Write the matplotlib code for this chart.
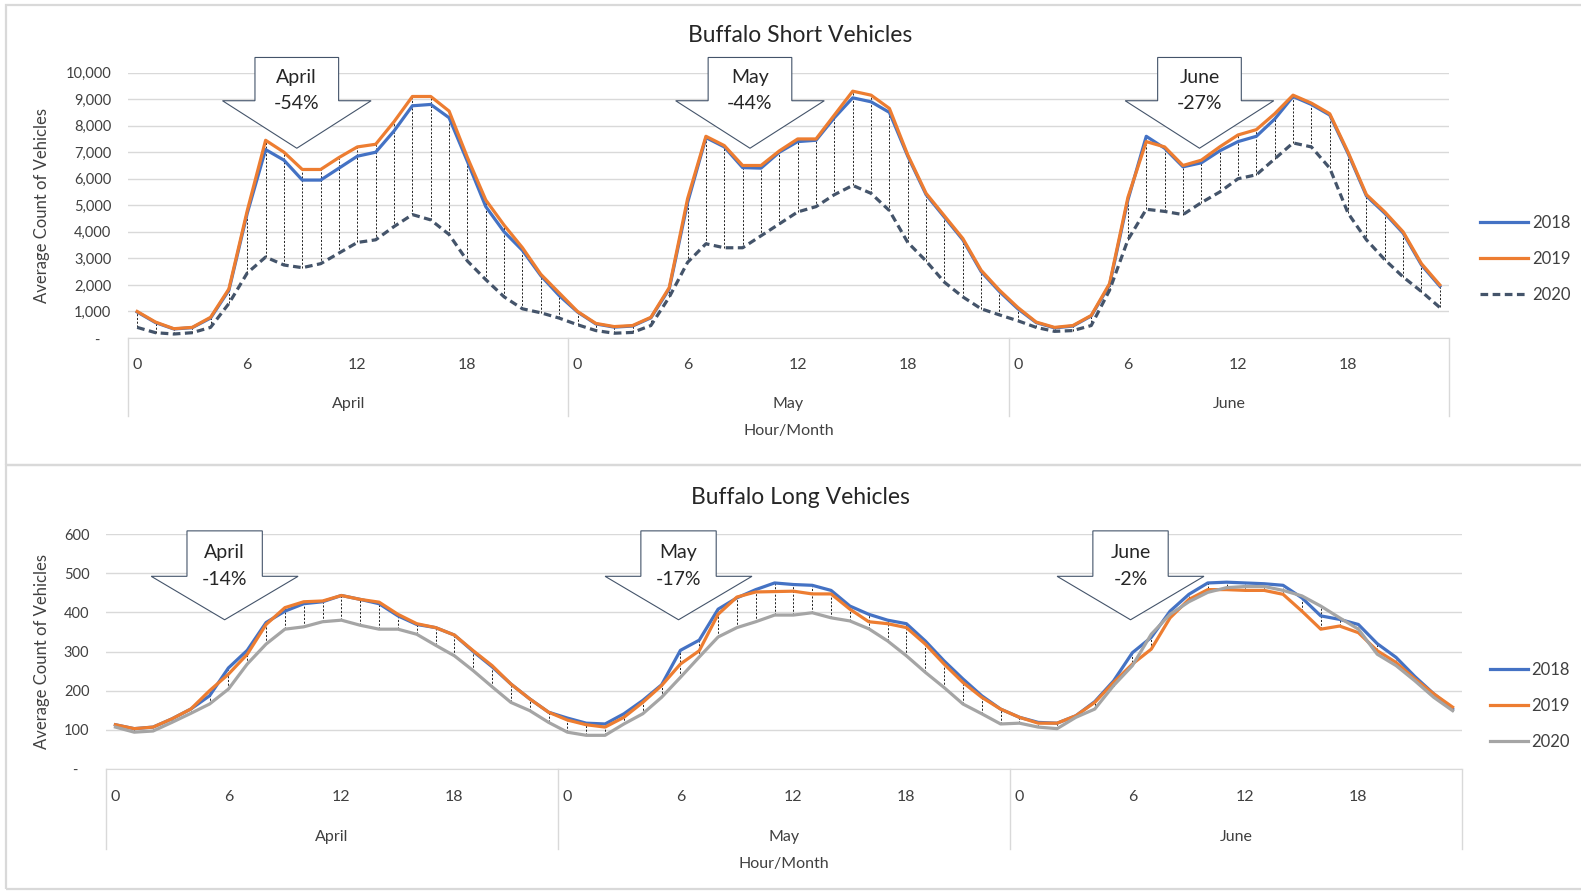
import matplotlib

matplotlib.use("Agg")
import matplotlib.pyplot as plt
import numpy as np
from matplotlib.patches import Polygon, Rectangle

plt.rcParams["font.family"] = ["Lato", "DejaVu Sans"]

FIG_W, FIG_H = 1581, 893
BLUE, ORANGE, SLATE, GRAY = "#4472C4", "#ED7D31", "#44546A", "#A5A5A5"
GRID = "#D9D9D9"
TEXT = "#404040"

MONTHS = ["April", "May", "June"]
HOURS = list(range(24))
HOUR_TICKS = [0, 6, 12, 18]
YEARS = ["2018", "2019", "2020"]

# Short vehicles, hourly averages, April / May / June
short_2018 = [
    980, 580, 340, 390, 750, 1800, 4700, 7100, 6700, 5950, 5950, 6400,
    6850, 7000, 7800, 8750, 8800, 8300, 6650, 4950, 4000, 3300, 2350, 1600,
    980, 530, 410, 450, 760, 1850, 5100, 7550, 7200, 6420, 6400, 7000,
    7400, 7450, 8300, 9050, 8900, 8500, 6850, 5400, 4550, 3700, 2500, 1750,
    1100, 580, 380, 450, 830, 2000, 5200, 7600, 7150, 6450, 6600, 7050,
    7400, 7600, 8250, 9100, 8800, 8400, 6950, 5350, 4700, 3950, 2750, 1950,
]
short_2019 = [
    1000, 600, 350, 400, 780, 1850, 4800, 7450, 7000, 6350, 6350, 6800,
    7200, 7300, 8150, 9100, 9100, 8550, 6800, 5200, 4250, 3400, 2400, 1700,
    1000, 550, 430, 470, 780, 1900, 5250, 7600, 7250, 6500, 6500, 7050,
    7500, 7500, 8400, 9300, 9150, 8650, 6900, 5450, 4600, 3750, 2550, 1800,
    1150, 600, 400, 470, 850, 2050, 5300, 7400, 7200, 6500, 6700, 7200,
    7650, 7850, 8450, 9150, 8850, 8450, 7000, 5400, 4750, 4000, 2800, 2000,
]
short_2020 = [
    400, 200, 150, 200, 400, 1300, 2450, 3050, 2750, 2650, 2800, 3200,
    3600, 3700, 4200, 4650, 4450, 3900, 2900, 2200, 1550, 1100, 950, 750,
    500, 280, 180, 210, 470, 1540, 2850, 3550, 3400, 3400, 3850, 4300,
    4750, 4950, 5400, 5750, 5450, 4800, 3600, 2900, 2100, 1550, 1100, 870,
    650, 400, 250, 280, 470, 1800, 3700, 4850, 4770, 4650, 5100, 5500,
    6000, 6150, 6750, 7350, 7200, 6400, 4700, 3700, 2950, 2300, 1750, 1150,
]

# Long vehicles
long_2018 = [
    113, 103, 107, 128, 153, 187, 258, 303, 374, 403, 422, 427,
    443, 433, 422, 391, 369, 361, 342, 300, 261, 217, 179, 145,
    130, 117, 115, 141, 175, 215, 303, 329, 408, 437, 458, 475,
    471, 469, 456, 416, 395, 380, 371, 327, 276, 230, 187, 153,
    132, 119, 117, 136, 172, 225, 297, 336, 403, 446, 475, 477,
    475, 473, 469, 437, 391, 382, 369, 320, 285, 236, 192, 153,
]
long_2019 = [
    113, 103, 107, 128, 153, 200, 242, 293, 369, 412, 427, 429,
    443, 433, 426, 395, 371, 361, 342, 302, 264, 217, 179, 145,
    125, 113, 107, 132, 170, 213, 268, 302, 395, 439, 452, 453,
    454, 447, 447, 408, 376, 371, 361, 319, 268, 221, 183, 153,
    132, 117, 117, 136, 170, 221, 268, 306, 386, 433, 458, 458,
    456, 456, 446, 403, 357, 365, 348, 302, 272, 230, 192, 158,
]
long_2020 = [
    107, 94, 97, 119, 142, 166, 204, 268, 319, 357, 363, 376,
    380, 367, 357, 357, 344, 316, 289, 251, 210, 170, 149, 119,
    94, 86, 86, 115, 141, 183, 234, 286, 337, 361, 376, 393,
    393, 399, 386, 378, 358, 327, 289, 247, 208, 166, 141, 115,
    117, 107, 103, 132, 153, 213, 264, 344, 395, 427, 451, 463,
    466, 466, 456, 442, 416, 386, 357, 293, 264, 225, 183, 149,
]

short_change = ["-54%", "-44%", "-27%"]
long_change = ["-14%", "-17%", "-2%"]


def px_box(left, top, right, bottom):
    """Pixel box of the reference -> figure fraction rect."""
    return [left / FIG_W, 1 - bottom / FIG_H, (right - left) / FIG_W, (bottom - top) / FIG_H]


def callout(ax, tx, ty, yw, yt, bw, ww, lines, ytext):
    pts = [(tx - bw, yt), (tx + bw, yt), (tx + bw, yw), (tx + ww, yw),
           (tx, ty), (tx - ww, yw), (tx - bw, yw)]
    ax.add_patch(Polygon(pts, closed=True, facecolor="white", edgecolor=SLATE,
                         lw=0.8, clip_on=False, zorder=6))
    for txt, yy in zip(lines, ytext):
        ax.text(tx, yy, txt, ha="center", va="center", fontsize=14,
                color="#262626", zorder=7, clip_on=False)


def draw_panel(fig, rect, title, title_y, series, colors, styles, ymax, ystep,
               fmt, tips, changes, legend_xy, handle_len, lab_px):
    ax = fig.add_axes(rect)
    n = len(series[0])
    x = np.arange(n)
    data = np.array(series)

    # high-low lines
    ax.vlines(x, data.min(axis=0), data.max(axis=0), colors="black",
              linestyles=(0, (2.5, 2)), lw=0.6, zorder=2)
    for vals, col, ls, lab in zip(series, colors, styles, YEARS):
        ax.plot(x, vals, color=col, lw=2.3, linestyle=ls, label=lab,
                solid_joinstyle="round", dash_capstyle="butt", zorder=3)

    ax.set_xlim(-0.5, n - 0.5)
    ax.set_ylim(0, ymax)
    yt = np.arange(0, ymax + 1, ystep)
    ax.set_yticks(yt)
    ax.set_yticklabels(["-   "] + [fmt(v) for v in yt[1:]], fontsize=10.5, color=TEXT)
    ax.tick_params(axis="y", length=0, pad=12)
    ax.set_xticks([])
    ax.grid(axis="y", color=GRID, lw=1)
    ax.set_axisbelow(True)
    for s in ["top", "right", "left"]:
        ax.spines[s].set_visible(False)
    ax.spines["bottom"].set_color(GRID)

    # multi-level category axis
    ax_h = rect[3] * FIG_H
    hour_off, month_off, sep_len, name_off = lab_px
    for m, month in enumerate(MONTHS):
        base = m * len(HOURS)
        for h in HOUR_TICKS:
            ax.annotate(str(h), (base + h, 0), xycoords=("data", "axes fraction"),
                        xytext=(0, -hour_off), textcoords="offset pixels",
                        ha="center", va="center", fontsize=11.5, color=TEXT)
        ax.annotate(month, (base + len(HOURS) / 2 - 0.5, 0),
                    xycoords=("data", "axes fraction"), xytext=(0, -month_off),
                    textcoords="offset pixels", ha="center", va="center",
                    fontsize=11.5, color=TEXT)
    for k in range(len(MONTHS) + 1):
        ax.plot([k * len(HOURS) - 0.5] * 2, [0, -sep_len / ax_h], color=GRID, lw=1,
                transform=ax.get_xaxis_transform(), clip_on=False)
    ax.annotate("Hour/Month", (n / 2 - 0.5, 0), xycoords=("data", "axes fraction"),
                xytext=(0, -name_off), textcoords="offset pixels",
                ha="center", va="center", fontsize=11.5, color=TEXT)

    fig.text(0.506, title_y, title, ha="center", va="center", fontsize=16.5, color="#262626")
    fig.text(0.0268, rect[1] + rect[3] / 2, "Average Count of Vehicles", rotation=90,
             ha="center", va="center", fontsize=12, color=TEXT)

    for m, (tip, chg) in enumerate(zip(tips, changes)):
        tx = m * len(HOURS) + tip["hour"]
        callout(ax, tx, tip["tip"], tip["wing"], tip["top"], tip["bw"], tip["ww"],
                [MONTHS[m], chg], tip["text"])

    ax.legend(loc="center left", bbox_to_anchor=legend_xy, frameon=False,
              fontsize=12, handlelength=handle_len, handletextpad=0.2, labelspacing=1.2,
              borderpad=0, borderaxespad=0, labelcolor=TEXT)
    return ax


fig = plt.figure(figsize=(FIG_W / 100, FIG_H / 100), dpi=100)

for top, bottom in [(5, 465), (465, 889)]:
    fig.add_artist(Rectangle((6 / FIG_W, 1 - bottom / FIG_H), 1.1, (bottom - top) / FIG_H,
                             transform=fig.transFigure, fill=False, edgecolor=GRID, lw=1.6))

short_tips = [dict(hour=h, tip=7150, wing=8940, top=10570, bw=2.28, ww=4.05,
                   text=[9800, 8830]) for h in (8.7, 9.4, 9.9)]
draw_panel(fig, px_box(128, 72.6, 1449, 338), "Buffalo Short Vehicles", 1 - 35.5 / FIG_H,
           [short_2018, short_2019, short_2020], [BLUE, ORANGE, SLATE],
           ["-", "-", (0, (2.4, 1.4))], 10000, 1000, lambda v: f"{v:,}",
           short_tips, short_change, (1.0235, 0.298), 2.9, (27, 66, 78, 93))

long_tips = [dict(hour=h, tip=381, wing=492, top=608, bw=2.0, ww=3.9,
                  text=[552, 485]) for h in (5.8, 5.9, 5.9)]
draw_panel(fig, px_box(106, 534, 1462, 769), "Buffalo Long Vehicles", 1 - 497 / FIG_H,
           [long_2018, long_2019, long_2020], [BLUE, ORANGE, GRAY],
           ["-", "-", "-"], 600, 100, lambda v: f"{v}",
           long_tips, long_change, (1.0206, 0.269), 2.3, (28, 68, 80, 95))

fig.savefig("out.png", dpi=100)
